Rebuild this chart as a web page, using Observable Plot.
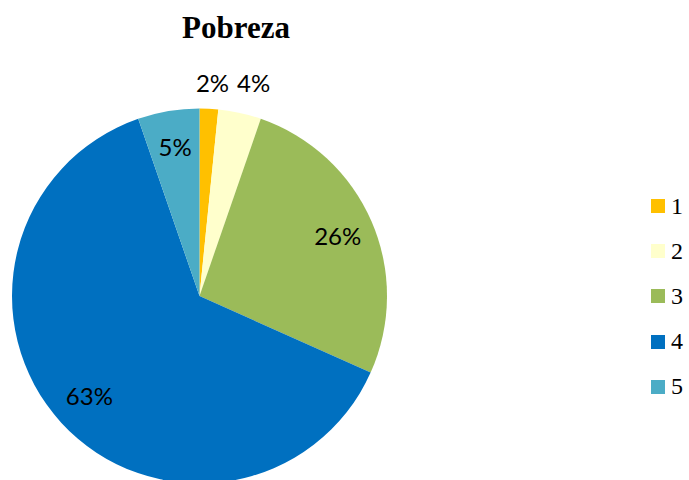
<!DOCTYPE html>
<html><head><meta charset="utf-8">
<script src="https://cdn.jsdelivr.net/npm/d3@7"></script>
<script src="https://cdn.jsdelivr.net/npm/@observablehq/plot@0.6"></script>
<style>
body{margin:0;background:#fff;}
#wrap{position:relative;width:689px;height:480px;overflow:hidden;background:#fff;}
#title{position:absolute;left:0;top:12px;width:472px;text-align:center;font:bold 31px/31px "Liberation Serif","Times New Roman",serif;color:#000;}
#chart{position:absolute;left:0;top:55px;}
#legend{position:absolute;left:651px;top:183.5px;font:24px/45.2px "Liberation Serif","Times New Roman",serif;color:#000;}
.item{display:flex;align-items:center;height:45.2px;}
.sw{width:14px;height:14px;margin-right:6px;}
</style></head>
<body>
<div id="wrap">
  <div id="title">Pobreza</div>
  <div id="chart"></div>
  <div id="legend"></div>
</div>
<script>
const categories = ["1", "2", "3", "4", "5"];
const values = [1.6, 3.7, 26.4, 63.0, 5.3];
const labels = ["2%", "4%", "26%", "63%", "5%"];
const colors = ["#FFC000", "#FFFFCC", "#9BBB59", "#0070C0", "#4BACC6"];

const data = categories.map((c, i) => ({category: c, value: values[i], label: labels[i]}));
const pie = d3.pie().sort(null).value(d => d.value)(data);
const slices = pie.map(p => {
  const mid = (p.startAngle + p.endAngle) / 2;
  const outside = p.data.value < 5;
  return {
    ...p.data,
    startAngle: p.startAngle, endAngle: p.endAngle,
    lx: (outside ? 1.33 : 0.8) * Math.sin(mid),
    ly: outside ? 1.13 : 0.8 * Math.cos(mid)
  };
});

const plot = Plot.plot({
  width: 689,
  height: 425,
  margin: 0,
  x: {domain: [-1, 1], range: [12, 387], axis: null},
  y: {domain: [-1, 1], range: [428.5, 53.5], axis: null},
  color: {domain: categories, range: colors},
  marks: [
    (index, scales) => {
      const cx = scales.x(0), cy = scales.y(0);
      const R = scales.x(1) - scales.x(0);
      const arc = d3.arc().innerRadius(0).outerRadius(R);
      const g = d3.create("svg:g").attr("transform", `translate(${cx},${cy})`);
      g.selectAll("path").data(slices).join("path")
        .attr("d", d => arc(d))
        .attr("fill", d => scales.color(d.category));
      return g.node();
    },
    Plot.text(slices, {
      x: "lx", y: "ly", text: "label",
      fontSize: 24, fontFamily: "Lato, 'Open Sans', sans-serif", fill: "#000"
    })
  ]
});
document.getElementById("chart").appendChild(plot);

const legend = document.getElementById("legend");
categories.forEach((c, i) => {
  const item = document.createElement("div");
  item.className = "item";
  const sw = document.createElement("div");
  sw.className = "sw";
  sw.style.background = colors[i];
  const t = document.createElement("span");
  t.textContent = c;
  item.appendChild(sw); item.appendChild(t);
  legend.appendChild(item);
});
</script>
</body></html>
